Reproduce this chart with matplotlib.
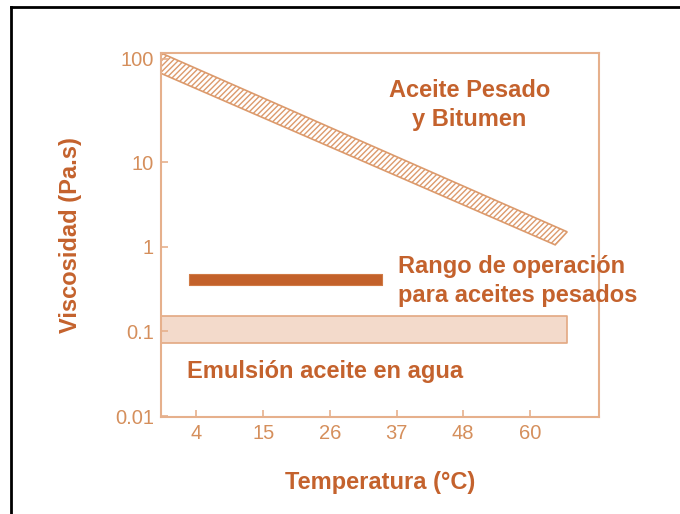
import numpy as np
import matplotlib
matplotlib.use("Agg")
import matplotlib.pyplot as plt
from matplotlib.patches import Polygon
from matplotlib.lines import Line2D

plt.rcParams['font.family'] = ['Liberation Sans', 'DejaVu Sans']
plt.rcParams['hatch.linewidth'] = 1.0

# ---- data ----
temp_ticks = [4.4, 15.6, 26.7, 37.8, 48.9, 60.0]
temp_labels = ["4", "15", "26", "37", "48", "60"]
visc_ticks = [0.01, 0.1, 1, 10, 100]
visc_labels = ["0.01", "0.1", "1", "10", "100"]

# heavy oil & bitumen band (corners: temp, viscosity)
heavy_temp = [-1.4, 66.2, 64.2, -1.4]
heavy_visc = [113, 1.51, 1.06, 72]

# operating range for heavy oils
oper_temp = [3.3, 35.4]
oper_low, oper_high = 0.355, 0.48

# oil-in-water emulsion
emul_temp = [-1.4, 66.2]
emul_low, emul_high = 0.073, 0.152

DARK = '#C4622D'
TICK = '#D58F5C'
SPINE = '#E6B08C'

# the original axis has a stretched top decade
k = 1.23
def fwd(v):
    l = np.log10(np.clip(v, 1e-12, None))
    return np.where(l > 1, 1 + (l - 1) * k, l)

def inv(p):
    p = np.asarray(p, dtype=float)
    return np.where(p > 1, 10 ** (1 + (p - 1) / k), 10 ** p)

fig = plt.figure(figsize=(6.8, 5.14), dpi=100)
ax = fig.add_axes([0.2368, 0.1887, 0.6441, 0.7082])
ax.set_yscale('function', functions=(fwd, inv))
ax.set_xlim(-1.4, 71.5)
ax.set_ylim(0.00973, 113)

# heavy oil band
band = Polygon(list(zip(heavy_temp, heavy_visc)), closed=True,
               facecolor='white', edgecolor='#DC9A6C', hatch='//////', lw=1.2)
ax.add_patch(band)

# emulsion band
ax.fill_between(emul_temp, emul_low, emul_high, facecolor='#F3DACB',
                edgecolor='#E3A882', lw=1.2)

# operating range bar
ax.fill_between(oper_temp, oper_low, oper_high, facecolor='#C3612A',
                edgecolor='#D07A45', lw=0.8)

ax.set_xticks(temp_ticks)
ax.set_xticklabels(temp_labels)
ax.set_yticks(visc_ticks)
ax.set_yticklabels(visc_labels)
ax.minorticks_off()
ax.tick_params(direction='in', length=5, width=1.2, color=SPINE,
               labelcolor=TICK, labelsize=14.5, pad=5)
for s in ax.spines.values():
    s.set_color(SPINE)
    s.set_linewidth(1.5)

ax.set_xlabel("Temperatura (°C)", fontsize=17, fontweight='bold',
              color=DARK, labelpad=20)
ax.set_ylabel("Viscosidad (Pa.s)", fontsize=17, fontweight='bold',
              color=DARK, labelpad=24)

ax.text(0.704, 0.858, "Aceite Pesado\ny Bitumen", transform=ax.transAxes,
        ha='center', va='center', fontsize=17, fontweight='bold',
        color=DARK, linespacing=1.35)
ax.text(0.541, 0.374, "Rango de operación\npara aceites pesados",
        transform=ax.transAxes, ha='left', va='center', fontsize=17,
        fontweight='bold', color=DARK, linespacing=1.35, clip_on=False)
ax.text(0.059, 0.126, "Emulsión aceite en agua", transform=ax.transAxes,
        ha='left', va='center', fontsize=17, fontweight='bold', color=DARK)

# frame around the picture (left and top edges only visible)
fig.add_artist(Line2D([11 / 680, 11 / 680], [0, 1 - 7 / 514],
                      transform=fig.transFigure, color='black', lw=2))
fig.add_artist(Line2D([11 / 680, 1], [1 - 7 / 514, 1 - 7 / 514],
                      transform=fig.transFigure, color='black', lw=2))

fig.savefig("out.png", dpi=100)
